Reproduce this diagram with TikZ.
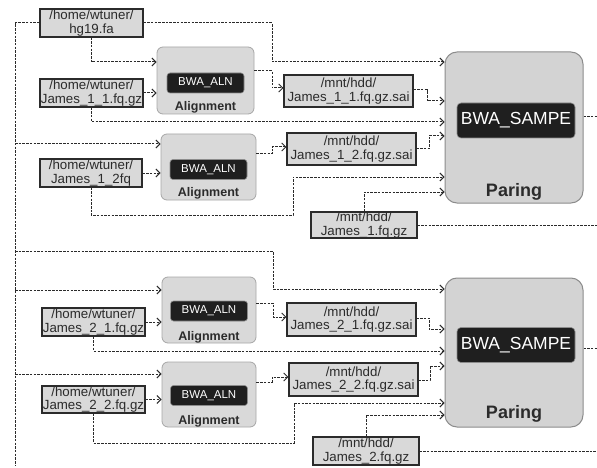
\documentclass[tikz,border=0pt]{standalone}
\usepackage{fontspec}
\setmainfont{Liberation Sans}
\usetikzlibrary{arrows.meta}
\definecolor{boxgray}{HTML}{D9D9D9}
\definecolor{pargray}{HTML}{D3D3D3}
\definecolor{ink}{HTML}{2B2B2B}
\begin{document}
\begin{tikzpicture}[x=1pt,y=-1pt,
  infile/.style={draw=ink, line width=1.1pt, fill=boxgray, inner sep=0pt, align=center,
    text=ink, font=\fontsize{13.3}{13.2}\selectfont},
  alnbox/.style={draw=black!35, line width=0.8pt, fill=boxgray, rounded corners=6pt, inner sep=0pt},
  tool/.style={fill=black!88, draw=black!45, line width=0.6pt, rounded corners=3pt, text=white, inner sep=0pt},
  parbox/.style={draw=black!45, line width=1pt, fill=pargray, rounded corners=12pt, inner sep=0pt},
  steplbl/.style={text=ink, inner sep=0pt},
  dl/.style={draw=ink, line width=1pt, dash pattern=on 2.5pt off 1.2pt},
  dla/.style={dl, -{Straight Barb[length=4pt,width=8pt]}}]
\useasboundingbox (0,0) rectangle (597,468);
\coordinate (lx) at (15,0);
\coordinate (edge) at (597,0);

% ---- input files ----
\node[infile, minimum width=103pt, minimum height=28pt] (hg)  at (91.5,23)  {/home/wtuner/\\hg19.fa};
\node[infile, minimum width=103pt, minimum height=28pt] (j11) at (91.5,93)  {/home/wtuner/\\James\_1\_1.fq.gz};
\node[infile, minimum width=102pt, minimum height=28pt] (j12) at (91,173)   {/home/wtuner/\\James\_1\_2fq};
\node[infile, minimum width=103pt, minimum height=28pt] (j21) at (93.5,322) {/home/wtuner/\\James\_2\_1.fq.gz};
\node[infile, minimum width=103pt, minimum height=27pt] (j22) at (93.5,399.5) {/home/wtuner/\\James\_2\_2.fq.gz};

% ---- intermediate files ----
\node[infile, minimum width=129pt, minimum height=32pt] (s1) at (348.5,91)    {/mnt/hdd/\\James\_1\_1.fq.gz.sai};
\node[infile, minimum width=129pt, minimum height=32pt] (s2) at (351.5,149)   {/mnt/hdd/\\James\_1\_2.fq.gz.sai};
\node[infile, minimum width=129pt, minimum height=33pt] (s3) at (351.5,319.5) {/mnt/hdd/\\James\_2\_1.fq.gz.sai};
\node[infile, minimum width=129pt, minimum height=33pt] (s4) at (353.5,379.5) {/mnt/hdd/\\James\_2\_2.fq.gz.sai};

% ---- merged outputs ----
\node[infile, minimum width=106pt, minimum height=26pt] (m1) at (364,225) {/mnt/hdd/\\James\_1.fq.gz};
\node[infile, minimum width=106pt, minimum height=28pt] (m2) at (366,451) {/mnt/hdd/\\James\_2.fq.gz};

% ---- alignment steps ----
\foreach \n/\x/\y/\w/\h/\ty/\ly in {a1/205.5/80.5/97/67/83/107, a2/208.5/167/95/66/169.5/193,
                                   a3/209/310/94/66/311/337,  a4/209/394.5/94/65/395.5/421}{
  \node[alnbox, minimum width=\w pt, minimum height=\h pt] (\n) at (\x,\y) {};
  \node[tool, minimum width=77pt, minimum height=20pt, font=\fontsize{11.5}{12}\selectfont] (\n t) at (\x,\ty) {BWA\_ALN};
  \node[steplbl, font=\bfseries\fontsize{12.5}{13}\selectfont] (\n l) at (\x,\ly) {Alignment};
}

% ---- pairing steps ----
\foreach \n/\y/\h/\ty/\lty in {p1/127.5/151/120.5/192, p2/352.5/149/345/414}{
  \node[parbox, minimum width=138pt, minimum height=\h pt] (\n) at (514,\y) {};
  \node[tool, minimum width=118pt, minimum height=35pt, rounded corners=4pt,
        font=\fontsize{17.5}{18}\selectfont] (\n t) at (516,\ty) {BWA\_SAMPE};
  \node[steplbl, font=\bfseries\fontsize{18}{19}\selectfont] (\n l) at (514,\lty) {Paring};
}

% ---- reference genome distribution ----
\draw[dl] (hg.west) -| (lx |- 0,466);
\draw[dla] (hg.south) |- (a1.west |- 0,62);
\draw[dla] (hg.east) -| (272,62) -- (p1.west |- 0,62);
\draw[dla] (lx |- 0,144) -- (a2.west |- 0,144);
\draw[dla] (lx |- 0,251) -| (273,289) -- (p2.west |- 0,289);
\draw[dla] (lx |- 0,290) -- (a3.west |- 0,290);
\draw[dla] (lx |- 0,374) -- (a4.west |- 0,374);

% ---- sample 1 ----
\draw[dla] (j11.east) -- (a1.west |- j11.east);
\draw[dla] (j11.south) |- (p1.west |- 0,122);
\draw[dla] (a1.east |- 0,71) -| (272,88) -- (s1.west |- 0,88);
\draw[dla] (s1.east |- 0,90) -| (427,101) -- (p1.west |- 0,101);
\draw[dla] (j12.east) -- (a2.west |- j12.east);
\draw[dla] (j12.south) |- (293,215) |- (p1.west |- 0,177);
\draw[dla] (a2.east |- 0,154) -| (272,147) -- (s2.west |- 0,147);
\draw[dla] (s2.east |- 0,149) -| (429,136) -- (p1.west |- 0,136);
\draw[dla] (m1.north) |- (p1.west |- 0,192);
\draw[dl] (m1.east) -- (edge |- m1.east);
\draw[dl] (p1.east |- 0,117) -- (edge |- 0,117);

% ---- sample 2 ----
\draw[dla] (j21.east) -- (a3.west |- j21.east);
\draw[dla] (j21.south) |- (p2.west |- 0,351);
\draw[dla] (a3.east |- 0,303) -| (273,317) -- (s3.west |- 0,317);
\draw[dla] (s3.east |- 0,318) -| (429,329) -- (p2.west |- 0,329);
\draw[dla] (j22.east) -- (a4.west |- j22.east);
\draw[dla] (j22.south) |- (294,443) |- (p2.west |- 0,403);
\draw[dla] (a4.east |- 0,382) -| (272,377) -- (s4.west |- 0,377);
\draw[dla] (s4.east |- 0,380) -| (430,366) -- (p2.west |- 0,366);
\draw[dla] (m2.north) |- (p2.west |- 0,415);
\draw[dl] (m2.east) -- (edge |- m2.east);
\draw[dl] (p2.east |- 0,348) -- (edge |- 0,348);
\end{tikzpicture}
\end{document}
